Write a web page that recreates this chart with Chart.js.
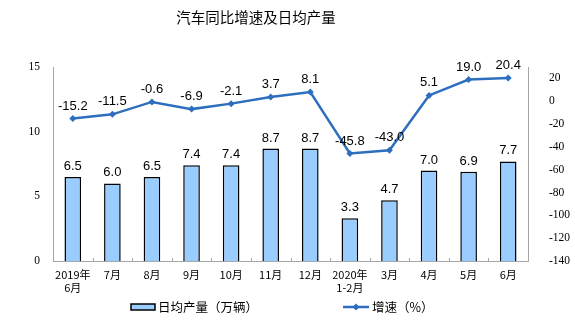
<!DOCTYPE html>
<html>
<head>
<meta charset="utf-8">
<script src="https://cdn.jsdelivr.net/npm/chart.js@4/dist/chart.umd.min.js"></script>
<style>
  html, body { margin: 0; padding: 0; background: #fff; }
  #wrap { width: 575px; height: 327px; }
</style>
</head>
<body>
<div id="wrap"><canvas id="barChart" width="575" height="327"></canvas></div>
<script>
var months = [['2019年', '6月'], '7月', '8月', '9月', '10月', '11月', '12月', ['2020年', '1-2月'], '3月', '4月', '5月', '6月'];
var dailyOutput = [6.5, 6.0, 6.5, 7.4, 7.4, 8.7, 8.7, 3.3, 4.7, 7.0, 6.9, 7.7];
var growthRate = [-15.2, -11.5, -0.6, -6.9, -2.1, 3.7, 8.1, -45.8, -43.0, 5.1, 19.0, 20.4];
var leftTicks = [0, 5, 10, 15];
var rightTicks = [-140, -120, -100, -80, -60, -40, -20, 0, 20];

var chartTitle = '汽车同比增速及日均产量';
var barName = '日均产量（万辆）';
var lineName = '增速（%）';

var lineBlue = '#2E6EBE';
var barFill = '#99CCFF';
var cjk = '"Noto Sans CJK SC", "Noto Sans", sans-serif';
var serif = '"Liberation Serif", "DejaVu Serif", serif';
var arial = '"Liberation Sans", Arial, sans-serif';

// values above bars and points, title, legend, little category ticks
var decorPlugin = {
    id: 'decor',
    afterDatasetsDraw: function(chart) {
        var ctx = chart.ctx;
        var area = chart.chartArea;
        ctx.save();

        // small tick marks between categories on the x axis
        ctx.strokeStyle = '#a6a6a6';
        ctx.lineWidth = 1;
        var step = (area.right - area.left) / months.length;
        for (var i = 1; i < months.length; i++) {
            var tx = Math.round(area.left + step * i) + 0.5;
            ctx.beginPath();
            ctx.moveTo(tx, area.bottom);
            ctx.lineTo(tx, area.bottom - 3);
            ctx.stroke();
        }

        ctx.fillStyle = '#000';
        ctx.font = '13px ' + arial;
        ctx.textAlign = 'center';
        ctx.textBaseline = 'bottom';

        var bars = chart.getDatasetMeta(0).data;
        bars.forEach(function(bar, i) {
            ctx.fillText(dailyOutput[i].toFixed(1), bar.x, bar.y - 4);
        });
        var pts = chart.getDatasetMeta(1).data;
        pts.forEach(function(p, i) {
            ctx.fillText(growthRate[i].toFixed(1), p.x, p.y - 6);
        });

        // title
        ctx.font = '14.5px ' + cjk;
        ctx.textBaseline = 'middle';
        ctx.fillText(chartTitle, 256, 17);

        // legend
        var ly = 307;
        ctx.fillStyle = barFill;
        ctx.strokeStyle = '#000';
        ctx.lineWidth = 1.5;
        ctx.fillRect(131, ly - 3, 24, 6);
        ctx.strokeRect(131, ly - 3, 24, 6);
        ctx.fillStyle = '#000';
        ctx.font = '12.5px ' + cjk;
        ctx.textAlign = 'left';
        ctx.fillText(barName, 158, ly);

        ctx.strokeStyle = lineBlue;
        ctx.lineWidth = 2.5;
        ctx.beginPath();
        ctx.moveTo(343, ly);
        ctx.lineTo(369, ly);
        ctx.stroke();
        ctx.fillStyle = lineBlue;
        ctx.beginPath();
        ctx.moveTo(356, ly - 3.5);
        ctx.lineTo(359.5, ly);
        ctx.lineTo(356, ly + 3.5);
        ctx.lineTo(352.5, ly);
        ctx.closePath();
        ctx.fill();
        ctx.fillStyle = '#000';
        ctx.fillText(lineName, 372, ly);

        ctx.restore();
    }
};

var chart = document.getElementById('barChart').getContext('2d');

var myChart = new Chart(chart, {
    type: 'bar',
    data: {
        labels: months,
        datasets: [{
            type: 'bar',
            label: barName,
            data: dailyOutput,
            yAxisID: 'y',
            backgroundColor: barFill,
            borderColor: '#000',
            borderWidth: 1.5,
            barPercentage: 0.42,
            categoryPercentage: 1,
            order: 2
        }, {
            type: 'line',
            label: lineName,
            data: growthRate,
            yAxisID: 'y1',
            borderColor: lineBlue,
            backgroundColor: lineBlue,
            borderWidth: 2.5,
            pointStyle: 'rectRot',
            pointRadius: 3.5,
            pointBorderWidth: 0,
            tension: 0,
            order: 1
        }]
    },
    options: {
        responsive: false,
        animation: false,
        layout: { padding: { top: 67, bottom: 24, left: 0, right: 0 } },
        plugins: {
            legend: { display: false },
            title: { display: false },
            tooltip: { enabled: false }
        },
        scales: {
            x: {
                offset: true,
                grid: { display: false, drawTicks: false },
                border: { color: '#a6a6a6', width: 1 },
                ticks: {
                    color: '#000',
                    padding: 7,
                    maxRotation: 0,
                    autoSkip: false,
                    font: { family: cjk, size: 11, lineHeight: 1.2 }
                },
                afterFit: function(scale) { scale.height = 42; }
            },
            y: {
                position: 'left',
                min: 0,
                max: 15,
                grid: { display: false, drawTicks: false },
                border: { color: '#a6a6a6', width: 1 },
                afterBuildTicks: function(scale) {
                    scale.ticks = leftTicks.map(function(v) { return { value: v }; });
                },
                ticks: {
                    color: '#000',
                    padding: 13,
                    font: { family: serif, size: 11.5 }
                },
                afterFit: function(scale) { scale.width = 53; }
            },
            y1: {
                position: 'right',
                min: -140,
                max: 30,
                grid: { display: false, drawTicks: false },
                border: { color: '#a6a6a6', width: 1 },
                afterBuildTicks: function(scale) {
                    scale.ticks = rightTicks.map(function(v) { return { value: v }; });
                },
                ticks: {
                    color: '#000',
                    padding: 21,
                    font: { family: serif, size: 11.5 }
                },
                afterFit: function(scale) { scale.width = 47; }
            }
        }
    },
    plugins: [decorPlugin]
});
</script>
</body>
</html>
